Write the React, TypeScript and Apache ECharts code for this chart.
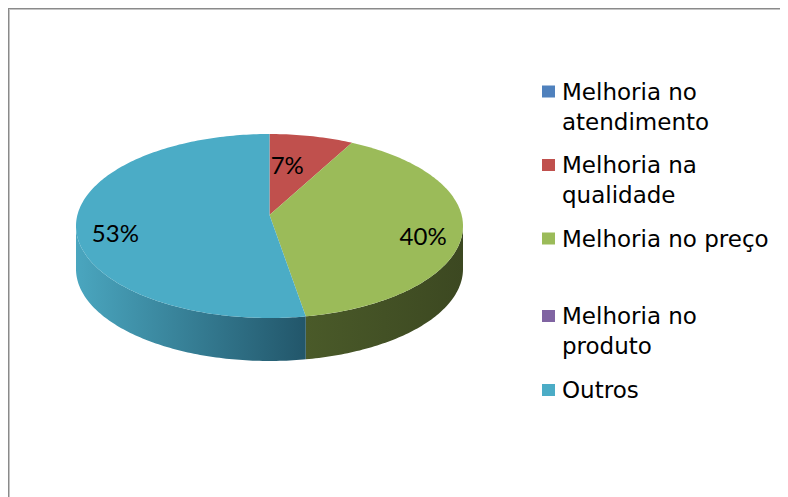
import React, { useEffect, useRef } from "react";
import * as echarts from "echarts";

// ---- data ----
const CATEGORIES = [
  "Melhoria no atendimento",
  "Melhoria na qualidade",
  "Melhoria no preço",
  "Melhoria no produto",
  "Outros",
];
const LEGEND_LABELS = [
  "Melhoria no\natendimento",
  "Melhoria na\nqualidade",
  "Melhoria no preço",
  "Melhoria no\nproduto",
  "Outros",
];
const VALUES = [0, 7, 40, 0, 53];

// ---- style ----
const COLORS = ["#4F81BD", "#C0504D", "#9BBB59", "#8064A2", "#4BACC6"];
const SIDE_COLORS = [
  ["#3c6391", "#223a57"],
  ["#93403d", "#572322"],
  ["#4a5a29", "#3c4821"],
  ["#634d80", "#3b2d4d"],
  ["#4aa6bf", "#22566a"],
];
const LABEL_NUDGE = [
  [0, 0],
  [-16, 10],
  [0, 0],
  [0, 0],
  [0, 0],
];
const CX = 259.5;
const CY = 216;
const APEX_Y = 205;
const RX = 193.5;
const RY = 92;
const DEPTH = 43;
const LEGEND_LINE_CENTER = [81.5, 155, 228.5, 306, 380];
const LINE_H = 30;

const total = VALUES.reduce((a, b) => a + b, 0);
const starts: number[] = [];
const ends: number[] = [];
{
  let acc = 0;
  VALUES.forEach((v) => {
    starts.push((acc / total) * 360);
    acc += v;
    ends.push((acc / total) * 360);
  });
}

const pt = (deg: number, dy = 0) => {
  const r = (deg * Math.PI) / 180;
  return [CX + RX * Math.sin(r), CY - RY * Math.cos(r) + dy];
};

const renderItem = (params: any, api: any) => {
  const start = api.value(0);
  const end = api.value(1);
  const val = api.value(2);
  const idx = api.value(3);
  if (!(val > 0)) return { type: "group", children: [] };
  const children: any[] = [];
  const a = Math.max(start, 90);
  const b = Math.min(end, 270);
  if (a < b) {
    const side: number[][] = [];
    for (let d = a; d < b; d += 1) side.push(pt(d));
    side.push(pt(b));
    for (let d = b; d > a; d -= 1) side.push(pt(d, DEPTH));
    side.push(pt(a, DEPTH));
    children.push({
      type: "polygon",
      shape: { points: side },
      style: {
        fill: new echarts.graphic.LinearGradient(0, 0, 1, 0, [
          { offset: 0, color: SIDE_COLORS[idx][0] },
          { offset: 1, color: SIDE_COLORS[idx][1] },
        ]),
      },
    });
  }
  const top: number[][] = [[CX, APEX_Y]];
  for (let d = start; d < end; d += 1) top.push(pt(d));
  top.push(pt(end));
  children.push({
    type: "polygon",
    shape: { points: top },
    style: { fill: COLORS[idx] },
  });
  const mid = ((start + end) / 2) * (Math.PI / 180);
  const f = 0.8;
  const lx = CX + f * RX * Math.sin(mid) + LABEL_NUDGE[idx][0];
  const ly = CY - f * RY * Math.cos(mid) + LABEL_NUDGE[idx][1];
  children.push({
    type: "text",
    x: lx,
    y: ly,
    style: {
      text: Math.round((val / total) * 100) + "%",
      fontFamily: "Lato",
      fontSize: 24,
      fill: "#000",
      align: "center",
      verticalAlign: "middle",
    },
  });
  return { type: "group", children };
};

export default function App() {
  const ref = useRef<HTMLDivElement>(null);
  useEffect(() => {
    if (!ref.current) return;
    const chart = echarts.init(ref.current, undefined, { renderer: "svg" });
    chart.setOption({
      animation: false,
      color: COLORS,
      legend: CATEGORIES.map((name, i) => {
        const twoLine = LEGEND_LABELS[i].includes("\n");
        return {
          data: [{ name, icon: "rect" }],
          orient: "vertical",
          left: 532,
          top: LEGEND_LINE_CENTER[i] - (twoLine ? 1.5 * LINE_H : 0.5 * LINE_H),
          padding: 0,
          itemWidth: 13,
          itemHeight: 12,
          selectedMode: false,
          // a leading blank line keeps the icon level with the first text line
          formatter: () => (twoLine ? "\n" + LEGEND_LABELS[i] : LEGEND_LABELS[i]),
          textStyle: {
            fontFamily: "DejaVu Sans",
            fontSize: 23,
            color: "#000",
            lineHeight: LINE_H,
            padding: [0, 0, 0, 2],
          },
        };
      }),
      series: CATEGORIES.map((name, i) => ({
        type: "custom",
        name,
        coordinateSystem: "none",
        renderItem,
        itemStyle: { color: COLORS[i] },
        data: [[starts[i], ends[i], VALUES[i], i]],
      })),
    });
    return () => chart.dispose();
  }, []);
  return (
    <div
      style={{
        borderLeft: "1px solid #8a8a8a",
        borderTop: "1px solid #8a8a8a",
        width: 779,
        height: 488,
      }}
    >
      <div
        style={{
          borderLeft: "1px solid #c4c4c4",
          borderTop: "1px solid #c4c4c4",
          width: 778,
          height: 487,
        }}
      >
        <div ref={ref} style={{ width: 778, height: 487 }} />
      </div>
    </div>
  );
}
